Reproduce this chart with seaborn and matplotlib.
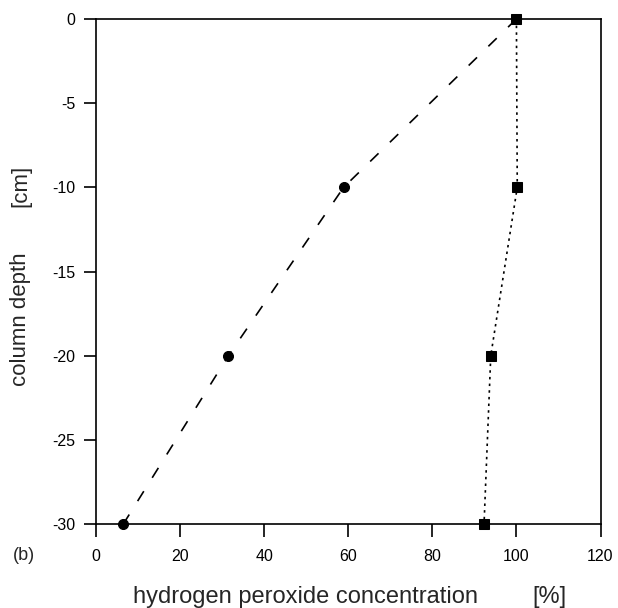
import numpy as np
import pandas as pd
import matplotlib
matplotlib.use("Agg")
import matplotlib.pyplot as plt
import seaborn as sns

# Perfil de concentração (circulos, linha tracejada)
depth_a = [0, -10, -20, -30]
conc_a = [100, 58.9, 31.5, 6.5]

# Perfil de concentração (quadrados, linha pontilhada)
depth_b = [0, -10, -20, -30]
conc_b = [100, 100.2, 93.9, 92.3]

x_ticks = [0, 20, 40, 60, 80, 100, 120]
y_ticks = [0, -5, -10, -15, -20, -25, -30]

sns.set_style("ticks")
plt.rcParams['font.family'] = ['Liberation Sans', 'DejaVu Sans']

W, H = 618, 608
fig = plt.figure(figsize=(W / 100, H / 100), dpi=100)
# eixo: 96..600.5 px em x, 19..524 px em y
ax = fig.add_axes([96 / W, 1 - 524 / H, 504.5 / W, 505 / H])

df_a = pd.DataFrame({'conc': conc_a, 'depth': depth_a})
df_b = pd.DataFrame({'conc': conc_b, 'depth': depth_b})

sns.lineplot(data=df_a, x='conc', y='depth', sort=False, estimator=None, ax=ax,
             color='black', linewidth=1.2, linestyle=(0, (7, 9.5)),
             marker='o', markersize=7.2, markeredgecolor='black', clip_on=False, zorder=3)
sns.lineplot(data=df_b, x='conc', y='depth', sort=False, estimator=None, ax=ax,
             color='black', linewidth=1.2, linestyle=(0, (1.5, 2.5)),
             marker='s', markersize=7.2, markeredgecolor='black', clip_on=False, zorder=4)

ax.set_xlim(0, 120)
ax.set_ylim(-30, 0)
ax.set_xticks(x_ticks)
ax.set_yticks(y_ticks)
ax.set_xticklabels([str(t) for t in x_ticks], fontsize=11.5)
ax.set_yticklabels([str(t) for t in y_ticks], fontsize=11.5)
ax.tick_params(direction='out', length=9, width=1.2, colors='black')
ax.tick_params(axis='x', pad=9)
ax.tick_params(axis='y', pad=6)
for s in ax.spines.values():
    s.set_linewidth(1.2)
    s.set_color('black')
ax.set_xlabel('')
ax.set_ylabel('')

# rótulos dos eixos
fig.text(305.5 / W, 1 - 603 / H, 'hydrogen peroxide concentration',
         ha='center', va='baseline', fontsize=17)
fig.text(549.5 / W, 1 - 603 / H, '[%]', ha='center', va='baseline', fontsize=17)
fig.text(21 / W, 1 - 319.5 / H, 'column depth', rotation=90,
         ha='center', va='center', fontsize=16)
fig.text(21 / W, 1 - 185.5 / H, '[cm]', rotation=90,
         ha='center', va='center', fontsize=16)
fig.text(24.3 / W, 1 - 555 / H, '(b)', ha='center', va='center', fontsize=13)

fig.savefig('out.png', dpi=100)
